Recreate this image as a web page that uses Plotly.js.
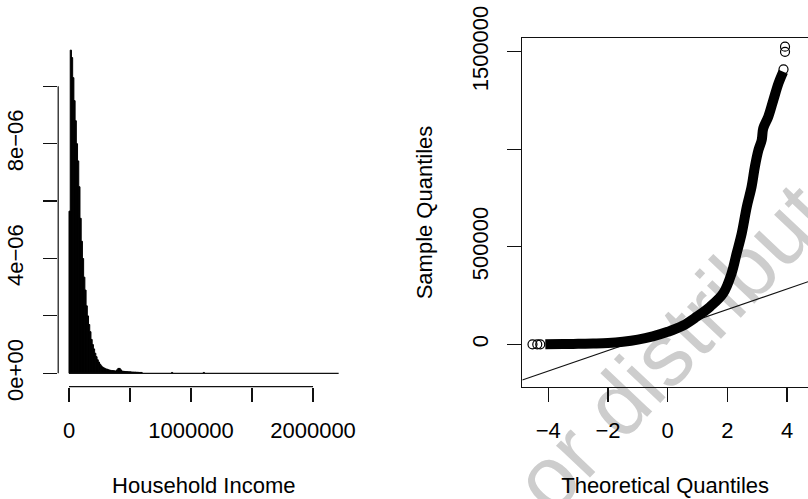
<!DOCTYPE html>
<html>
<head>
<meta charset="utf-8">
<script src="https://cdn.plot.ly/plotly-3.0.1.min.js"></script>
<style>html,body{margin:0;padding:0;background:#fff;}#chart{width:808px;height:499px;}</style>
</head>
<body>
<div id="chart"></div>
<script>
// ---------- Histogram of household income (density) ----------
const binWidth = 10000;            // width of each histogram bin
const histMax = 2210000;           // upper end of the last break
// density per 10000-wide bin starting at 0 (units of 1e-6)
const densityE6 = [5.65, 11.26, 11.0, 10.3, 9.5, 8.8, 8.0, 7.4, 6.5, 5.4,
  4.6, 4.0, 3.35, 2.9, 2.35, 2.0, 1.7, 1.45, 1.18, 1.0,
  0.85, 0.70, 0.58, 0.47, 0.39, 0.32, 0.26, 0.22, 0.19, 0.17,
  0.15, 0.14, 0.12, 0.11, 0.10, 0.095, 0.09, 0.085, 0.08, 0.12,
  0.17, 0.17, 0.12, 0.08, 0.07, 0.065, 0.06, 0.06, 0.055, 0.05,
  0.05, 0.045, 0.045, 0.04, 0.04, 0.035, 0.035, 0.03, 0.03, 0.03];
// sparse tail bins (start, density 1e-6)
const tailStart = [840000, 1100000];
const tailDensityE6 = [0.03, 0.03];

const histXTicks = [0, 500000, 1000000, 1500000, 2000000];
const histXLabels = ['0', '', '1000000', '', '2000000'];
const histYTicks = [0, 2e-6, 4e-6, 6e-6, 8e-6, 1e-5];
const histYLabels = ['0e+00', '', '4e\u221206', '', '8e\u221206', ''];

// ---------- Normal Q-Q plot ----------
const qqTheo = [-4.10, -3.5, -3.0, -2.5, -2.0, -1.5, -1.0, -0.5, 0, 0.5,
  0.97, 1.42, 1.86, 2.14, 2.31, 2.48, 2.65, 2.81, 2.92, 3.04,
  3.15, 3.20, 3.37, 3.54, 3.71, 3.87];
const qqSample = [500, 1500, 2500, 4000, 6500, 13000, 24000, 41000, 64000, 95000,
  141500, 193000, 261500, 364000, 466700, 569000, 705600, 808000, 910700, 996400,
  1047700, 1107700, 1167000, 1252800, 1338000, 1398000];
// isolated points at both ends
const qqLowTheo = [-4.53, -4.37, -4.27];
const qqLowSample = [0, 0, 0];
const qqHighTheo = [3.88, 3.93, 3.93];
const qqHighSample = [1410000, 1500000, 1526000];
// quartiles used by qqline
const normalQuartiles = [-0.6745, 0.6745];
const sampleQuartiles = [38000, 109000];

const qqXTicks = [-4, -2, 0, 2, 4];
const qqXLabels = ['\u22124', '\u22122', '0', '2', '4'];
const qqYTicks = [0, 500000, 1000000, 1500000];
const qqYLabels = ['0', '500000', '', '1500000'];

// ---------- build ----------
const FONT = 'Liberation Sans, Arial, Helvetica, sans-serif';
const W = 808, H = 499;
const INK = '#111';

const hx = densityE6.map((d, i) => i * binWidth + binWidth / 2);
const hy = densityE6.map(d => d * 1e-6);
tailStart.forEach((s, i) => { hx.push(s + binWidth / 2); hy.push(tailDensityE6[i] * 1e-6); });

const histTrace = {
  type: 'bar', x: hx, y: hy, width: binWidth,
  marker: {color: '#000', line: {color: '#000', width: 1}},
  xaxis: 'x', yaxis: 'y', hoverinfo: 'skip'
};
const histBase = {
  type: 'scatter', mode: 'lines', x: [0, histMax], y: [0, 0],
  line: {color: INK, width: 1.2}, xaxis: 'x', yaxis: 'y', hoverinfo: 'skip'
};

const qqXRange = [-4.871, 4.700];
const slope = (sampleQuartiles[1] - sampleQuartiles[0]) / (normalQuartiles[1] - normalQuartiles[0]);
const intercept = sampleQuartiles[0] - slope * normalQuartiles[0];
const qqLine = {
  type: 'scatter', mode: 'lines', x: qqXRange,
  y: qqXRange.map(v => intercept + slope * v),
  line: {color: INK, width: 1.1}, xaxis: 'x2', yaxis: 'y2', hoverinfo: 'skip'
};
const qqBand = {
  type: 'scatter', mode: 'lines', x: qqTheo, y: qqSample,
  line: {color: '#000', width: 10, shape: 'spline', smoothing: 1},
  xaxis: 'x2', yaxis: 'y2', hoverinfo: 'skip'
};
const circ = {symbol: 'circle-open', size: 9, color: '#000', line: {width: 1.2, color: '#000'}};
const qqLow = {type: 'scatter', mode: 'markers', x: qqLowTheo, y: qqLowSample,
  marker: circ, xaxis: 'x2', yaxis: 'y2', hoverinfo: 'skip'};
const qqHigh = {type: 'scatter', mode: 'markers', x: qqHighTheo, y: qqHighSample,
  marker: circ, xaxis: 'x2', yaxis: 'y2', hoverinfo: 'skip'};

const tickFont = {family: FONT, size: 22, color: '#000'};
const common = {showgrid: false, zeroline: false, ticks: 'outside', ticklen: 14,
  tickwidth: 1.2, tickcolor: INK, tickfont: tickFont, tickmode: 'array', fixedrange: true};

const layout = {
  width: W, height: H,
  margin: {l: 0, r: 0, t: 0, b: 0},
  paper_bgcolor: '#fff', plot_bgcolor: 'rgba(0,0,0,0)',
  showlegend: false, bargap: 0,
  font: {family: FONT, color: '#000'},
  xaxis: Object.assign({}, common, {
    domain: [58.2 / W, 349.4 / W], range: [-88500, 2298000],
    tickvals: histXTicks, ticktext: histXLabels, showline: false, anchor: 'y',
    ticklabelstandoff: 10,
    title: {text: 'Household Income', font: {family: FONT, size: 22, color: '#000'}, standoff: 35}
  }),
  yaxis: Object.assign({}, common, {
    domain: [(H - 386.7) / H, (H - 37.5) / H], range: [-4.67e-7, 1.170e-5],
    tickvals: histYTicks, ticktext: histYLabels, tickangle: -90, showline: false, anchor: 'x',
    ticklabelstandoff: 11
  }),
  xaxis2: Object.assign({}, common, {
    domain: [522.3 / W, 1], range: qqXRange,
    tickvals: qqXTicks, ticktext: qqXLabels, showline: true, mirror: true,
    linecolor: INK, linewidth: 1.2, anchor: 'y2', ticklabelstandoff: 10,
    title: {text: 'Theoretical Quantiles', font: {family: FONT, size: 22, color: '#000'}, standoff: 35}
  }),
  yaxis2: Object.assign({}, common, {
    domain: [(H - 386.7) / H, (H - 38.3) / H], range: [-217400, 1569200],
    tickvals: qqYTicks, ticktext: qqYLabels, tickangle: -90, showline: true, mirror: false,
    linecolor: INK, linewidth: 1.2, anchor: 'x2', ticklabelstandoff: 10,
    title: {text: 'Sample Quantiles', font: {family: FONT, size: 22, color: '#000'}, standoff: 29}
  }),
  shapes: [
    // R-style axis lines spanning first to last tick (histogram panel)
    {type: 'line', xref: 'x', yref: 'y domain', x0: histXTicks[0], x1: histXTicks[histXTicks.length - 1], y0: 0, y1: 0,
      line: {color: INK, width: 1.2}},
    {type: 'line', xref: 'x domain', yref: 'y', x0: 0, x1: 0, y0: histYTicks[0], y1: histYTicks[histYTicks.length - 1],
      line: {color: INK, width: 1.2}},
    // watermark
    {type: 'rect', xref: 'paper', yref: 'paper', layer: 'below',
      x0: 681 / W, x1: 683 / W, y0: 1 - 325 / H, y1: 1 - 323 / H,
      line: {width: 0}, fillcolor: 'rgba(0,0,0,0)',
      label: {text: 'or distribute', textangle: -46.6, textposition: 'middle center',
        font: {family: FONT, size: 88, color: '#cdcdcd'}}}
  ]
};

Plotly.newPlot('chart', [histTrace, histBase, qqLine, qqBand, qqLow, qqHigh], layout,
  {staticPlot: true, displayModeBar: false});
</script>
</body>
</html>
